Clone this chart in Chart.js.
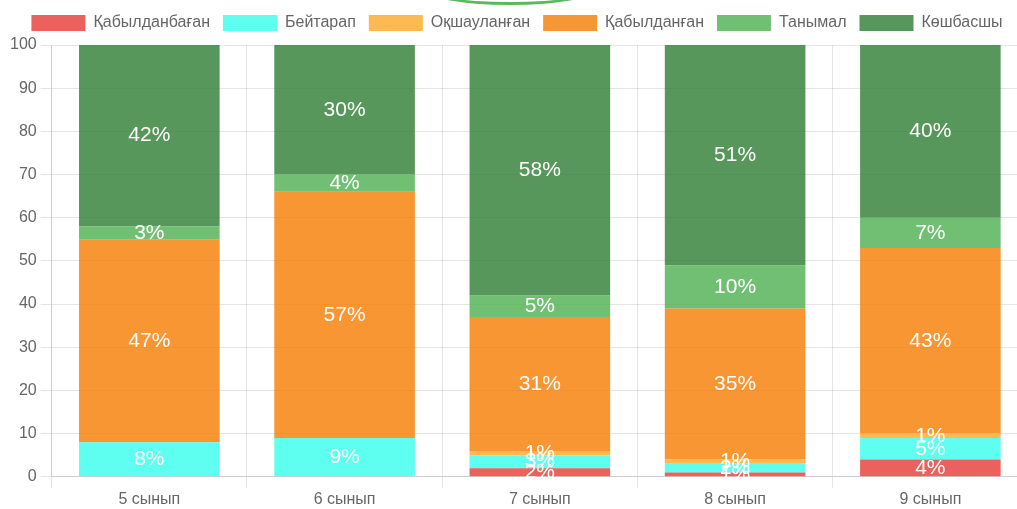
<!DOCTYPE html>
<html>
<head>
<meta charset="utf-8">
<script src="https://cdn.jsdelivr.net/npm/chart.js@4"></script>
<style>
html,body{margin:0;padding:0;background:#fff;overflow:hidden;}
#wrap{position:relative;width:1017px;height:509px;overflow:hidden;}
#arc{position:absolute;left:420px;top:-30px;width:180px;height:32px;border-bottom:3px solid #5cb85c;border-radius:0 0 50% 50%;}
canvas{position:absolute;left:0;top:0;}
</style>
</head>
<body>
<div id="wrap">
<canvas id="c" width="1030" height="511"></canvas>
<div id="arc"></div>
</div>
<script>
const categories = ['5 сынып', '6 сынып', '7 сынып', '8 сынып', '9 сынып'];
const seriesNames = ['Қабылданбаған', 'Бейтарап', 'Оқшауланған', 'Қабылданған', 'Танымал', 'Көшбасшы'];
const rejected   = [0, 0, 2, 1, 4];
const neutral    = [8, 9, 3, 2, 5];
const isolated   = [0, 0, 1, 1, 1];
const accepted   = [47, 57, 31, 35, 43];
const popular    = [3, 4, 5, 10, 7];
const leader     = [42, 30, 58, 51, 40];
const yTicks     = [0, 10, 20, 30, 40, 50, 60, 70, 80, 90, 100];

const colors = [
  'rgba(229,57,53,0.8)',
  'rgba(40,255,235,0.75)',
  'rgba(255,167,38,0.8)',
  'rgba(245,124,0,0.8)',
  'rgba(76,175,80,0.8)',
  'rgba(46,125,50,0.8)'
];
const values = [rejected, neutral, isolated, accepted, popular, leader];
const FONT = '"Liberation Sans", Arial, sans-serif';

const labelPlugin = {
  id: 'pctLabels',
  afterDatasetsDraw(chart) {
    const ctx = chart.ctx;
    ctx.save();
    ctx.fillStyle = '#fff';
    ctx.font = '21px ' + FONT;
    ctx.textAlign = 'center';
    ctx.textBaseline = 'middle';
    chart.data.datasets.forEach((ds, i) => {
      const meta = chart.getDatasetMeta(i);
      meta.data.forEach((bar, j) => {
        const v = ds.data[j];
        if (!v) return;
        ctx.fillText(v + '%', bar.x, (bar.y + bar.base) / 2);
      });
    });
    ctx.restore();
  }
};

const legendGap = {
  id: 'legendGap',
  beforeInit(chart) {
    const orig = chart.legend.fit;
    chart.legend.fit = function () {
      orig.call(this);
      this.height += 4;
    };
  }
};

new Chart(document.getElementById('c'), {
  type: 'bar',
  data: {
    labels: categories,
    datasets: seriesNames.map((n, i) => ({
      label: n,
      data: values[i],
      backgroundColor: colors[i],
      borderWidth: 0
    }))
  },
  options: {
    responsive: false,
    animation: false,
    layout: { padding: { top: 2, left: 6, right: 2, bottom: 0 } },
    plugins: {
      legend: {
        labels: {
          boxWidth: 54,
          boxHeight: 16,
          padding: 13,
          color: '#666',
          font: { size: 16, family: FONT }
        }
      },
      tooltip: { enabled: false }
    },
    scales: {
      x: {
        stacked: true,
        grid: { tickLength: 11 },
        ticks: { color: '#666', padding: 2, font: { size: 16, family: FONT } }
      },
      y: {
        stacked: true,
        min: 0,
        max: 100,
        grid: { tickLength: 11 },
        afterBuildTicks(axis) { axis.ticks = yTicks.map(v => ({ value: v })); },
        ticks: { color: '#666', padding: 4, font: { size: 16, family: FONT } }
      }
    }
  },
  plugins: [labelPlugin, legendGap]
});
</script>
</body>
</html>
